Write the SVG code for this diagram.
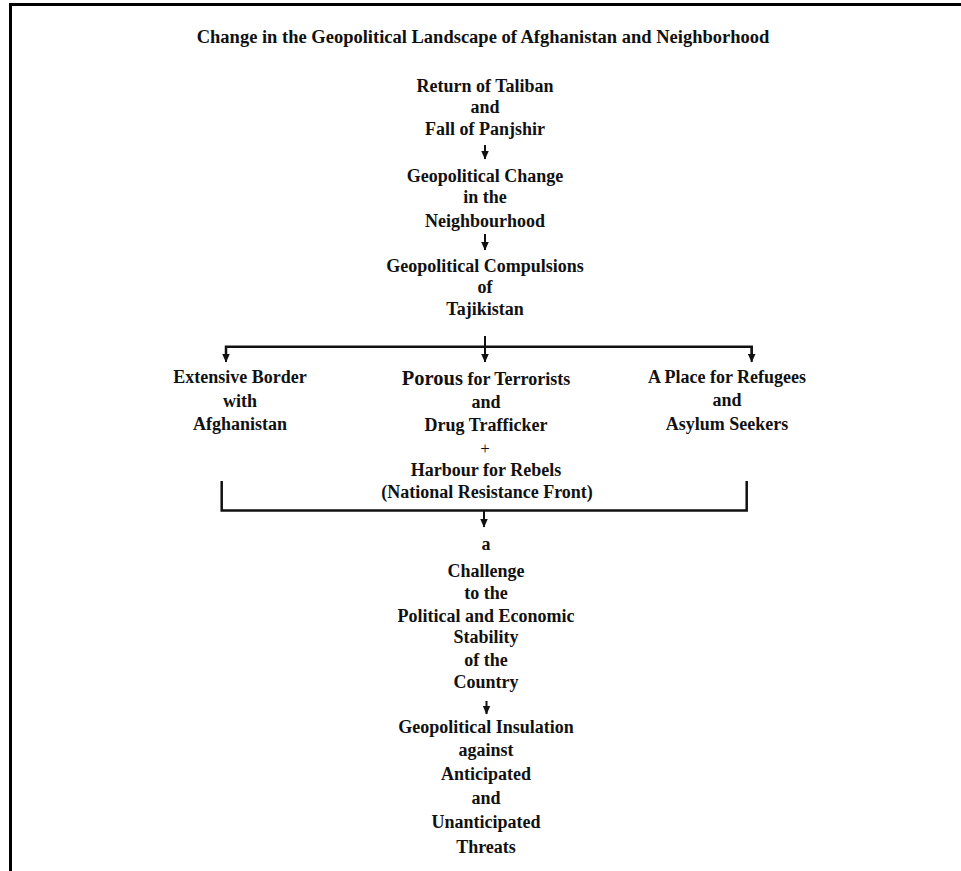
<svg xmlns="http://www.w3.org/2000/svg" width="961" height="871" viewBox="0 0 961 871">
<style>
text{font-family:"Liberation Serif","Times New Roman",serif;font-weight:bold;font-size:18px;fill:#111;text-anchor:middle}
.title{font-size:18.5px}
.big{font-size:20.5px}
.plus{font-weight:normal;font-size:17px}
.ln{stroke:#111;stroke-width:2.5;fill:none}
.ar{stroke:#111;stroke-width:2;fill:none;marker-end:url(#ah)}
</style>
<defs>
<marker id="ah" markerUnits="userSpaceOnUse" markerWidth="9" markerHeight="8" viewBox="0 0 9 8" refX="8.5" refY="4" orient="auto">
<path d="M0,0 L9,4 L0,8 Z" fill="#111"/>
</marker>
</defs>
<rect x="0" y="0" width="961" height="871" fill="#fff"/>
<g id="frame">
<line x1="10.5" y1="3" x2="10.5" y2="871" stroke="#000" stroke-width="3"/>
<line x1="9" y1="4.5" x2="961" y2="4.5" stroke="#000" stroke-width="3"/>
</g>
<g id="title"><text class="title" x="483" y="43">Change in the Geopolitical Landscape of Afghanistan and Neighborhood</text></g>
<g id="n1">
<text x="485" y="91.7">Return of Taliban</text>
<text x="485" y="113.3">and</text>
<text x="485" y="135">Fall of Panjshir</text>
</g>
<g id="n2">
<text x="485" y="181.7">Geopolitical Change</text>
<text x="485" y="203.3">in the</text>
<text x="485" y="226.7">Neighbourhood</text>
</g>
<g id="n3">
<text x="485" y="271.7">Geopolitical Compulsions</text>
<text x="485" y="293.3">of</text>
<text x="485" y="315">Tajikistan</text>
</g>
<g id="n4">
<text x="240" y="383.3">Extensive Border</text>
<text x="240" y="406.7">with</text>
<text x="240" y="430">Afghanistan</text>
</g>
<g id="n5">
<text x="486" y="385"><tspan class="big">Porous</tspan> for Terrorists</text>
<text x="486" y="407.7">and</text>
<text x="486" y="431">Drug Trafficker</text>
<text class="plus" x="485" y="454">+</text>
<text x="486" y="475.7">Harbour for Rebels</text>
<text x="487" y="497.7">(National Resistance Front)</text>
</g>
<g id="n6">
<text x="727" y="383.3">A Place for Refugees</text>
<text x="727" y="406">and</text>
<text x="727" y="430">Asylum Seekers</text>
</g>
<g id="n7">
<text x="486" y="550">a</text>
<text x="486" y="576.5">Challenge</text>
<text x="486" y="599">to the</text>
<text x="486" y="621.7">Political and Economic</text>
<text x="486" y="643.3">Stability</text>
<text x="486" y="665.7">of the</text>
<text x="486" y="688.3">Country</text>
</g>
<g id="n8">
<text x="486" y="733.3">Geopolitical Insulation</text>
<text x="486" y="756">against</text>
<text x="486" y="780">Anticipated</text>
<text x="486" y="804">and</text>
<text x="486" y="828">Unanticipated</text>
<text x="486" y="852.7">Threats</text>
</g>
<g id="connectors">
<line class="ar" x1="485" y1="145" x2="485" y2="159"/>
<line class="ar" x1="485" y1="234" x2="485" y2="250"/>
<line class="ar" x1="485" y1="336" x2="485" y2="362"/>
<polyline class="ln" points="226,355 226,346.7 751.7,346.7 751.7,355"/>
<line class="ar" x1="226" y1="346" x2="226" y2="362"/>
<line class="ar" x1="751.7" y1="346" x2="751.7" y2="362"/>
<polyline class="ln" points="221.7,481 221.7,510.5 746.7,510.5 746.7,481"/>
<line class="ar" x1="484" y1="510" x2="484" y2="527"/>
<line class="ar" x1="486.5" y1="701" x2="486.5" y2="714"/>
</g>
</svg>
